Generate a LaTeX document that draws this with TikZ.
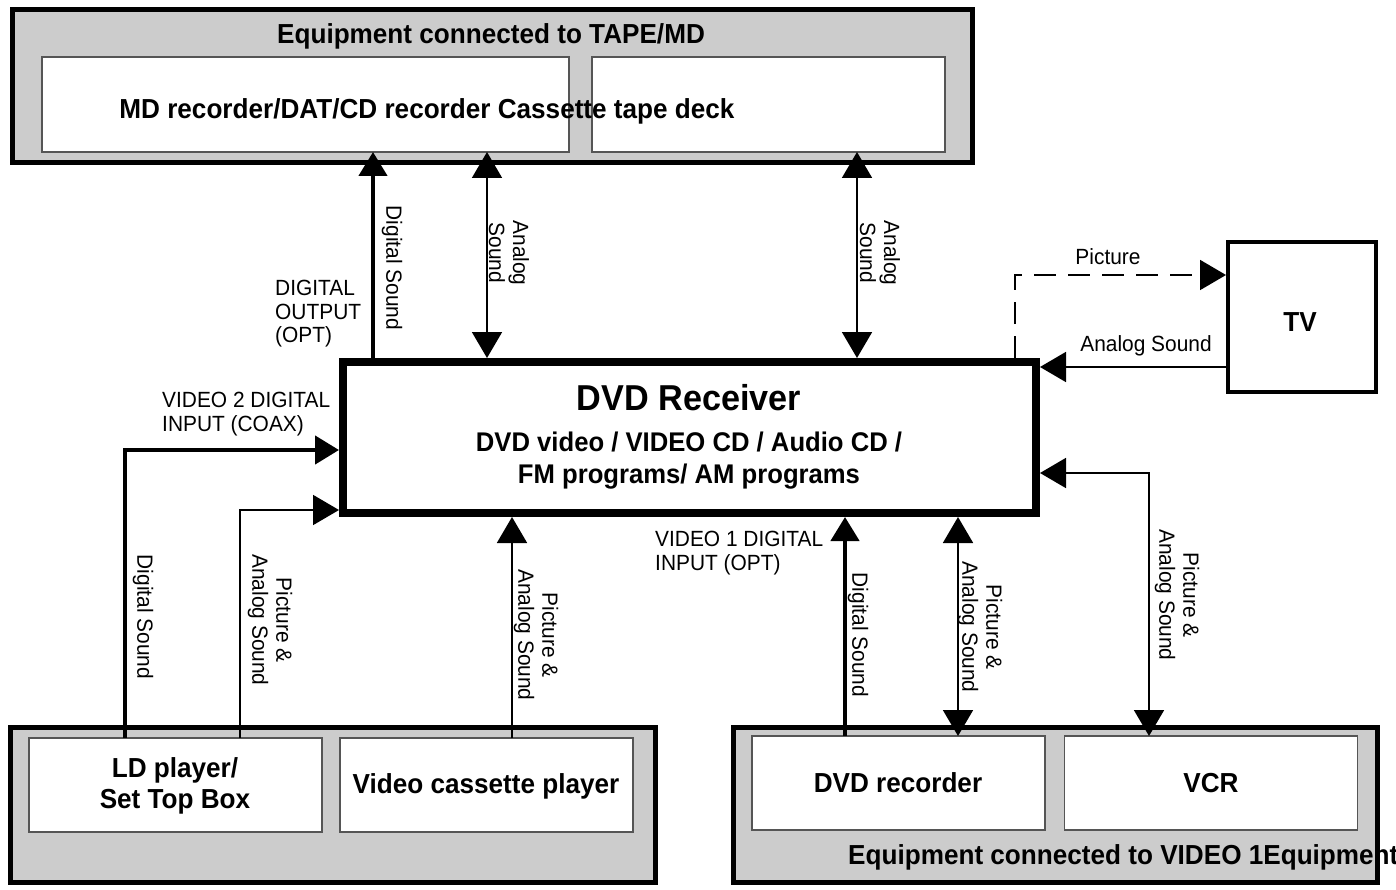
\documentclass[tikz,border=0pt]{standalone}
\usepackage{fontspec}
\setmainfont[FakeStretch=0.95]{Liberation Sans}
\usetikzlibrary{arrows.meta}
\definecolor{panel}{HTML}{CCCCCC}
\definecolor{inner}{HTML}{555555}
\begin{document}
\begin{tikzpicture}[x=1pt,y=-1pt,
  outerbox/.style={draw=black,line width=5pt,fill=panel,inner sep=0pt,outer sep=0pt},
  innerbox/.style={draw=inner,line width=1.5pt,fill=white,inner sep=0pt,outer sep=0pt},
  boxtext/.style={font=\fontsize{27.5}{31}\selectfont\bfseries,align=center,inner sep=0pt},
  lbl/.style={font=\fontsize{22}{24}\selectfont,align=center,inner sep=0pt},
  lblleft/.style={font=\fontsize{22}{23.5}\selectfont,align=left,inner sep=0pt,anchor=west},
  vlbl/.style={lbl,rotate=-90},
  thinline/.style={line width=1.8pt},
  thickline/.style={line width=4.5pt},
  tip/.tip={Triangle[length=26pt,width=30pt]},
  tipthick/.tip={Triangle[length=24pt,width=28pt]}
]
\useasboundingbox (0,0) rectangle (1396,890);

% ---- top panel ----
\node[outerbox,minimum width=960,minimum height=153] (tape) at (492,86.5) {};
\node[boxtext] (tapetitle) at (491,36) {Equipment connected to TAPE/MD};
\node[innerbox,minimum width=527,minimum height=95] (md) at (305.5,104.5) {};
\node[innerbox,minimum width=353,minimum height=95] (cass) at (768.5,104.5) {};
\node[boxtext] (mdtext) at (427,111) {MD recorder/DAT/CD recorder Cassette tape deck};

% ---- DVD receiver ----
\node[draw=black,line width=8pt,fill=white,minimum width=693,minimum height=151,inner sep=0pt] (dvd) at (689.5,437.5) {};
\node[font=\fontsize{36}{40}\selectfont\bfseries,inner sep=0pt] (dvdtitle) at (689,398) {DVD Receiver};
\node[font=\fontsize{27}{32}\selectfont\bfseries,align=center,inner sep=0pt] (dvdsub) at (689,461) {DVD video / VIDEO CD / Audio CD /\\FM programs/ AM programs};

% ---- TV ----
\node[draw=black,line width=4pt,fill=white,minimum width=148,minimum height=150,inner sep=0pt] (tv) at (1302,317) {};
\node[boxtext] (tvtext) at (1300,322) {TV};

% ---- bottom left panel ----
\node[outerbox,minimum width=645,minimum height=155] (vid2) at (332.5,804.5) {};
\node[innerbox,minimum width=293,minimum height=94] (ld) at (175.5,785) {};
\node[innerbox,minimum width=293,minimum height=94] (vcp) at (486.5,785) {};
\node[boxtext] (ldtext) at (175,786) {LD player/\\Set Top Box};
\node[boxtext] (vcptext) at (486,786) {Video cassette player};

% ---- bottom right panel ----
\node[outerbox,minimum width=644,minimum height=155] (vid1) at (1055,804.5) {};
\node[innerbox,minimum width=293,minimum height=94] (dvdrec) at (898.5,783) {};
\node[innerbox,minimum width=293,minimum height=94] (vcr) at (1211,783) {};
\node[boxtext] (dvdrectext) at (898,783) {DVD recorder};
\node[boxtext] (vcrtext) at (1211,783) {VCR};
\node[boxtext,anchor=west] (vid1title) at (848,857) {Equipment connected to VIDEO 1Equipment};

% ---- column coordinates ----
\coordinate (xa) at (373,0);
\coordinate (xb) at (487,0);
\coordinate (xc) at (857,0);
\coordinate (xd) at (1015,0);
\coordinate (xe) at (125,0);
\coordinate (xf) at (240,0);
\coordinate (xg) at (512,0);
\coordinate (xh) at (845,0);
\coordinate (xi) at (958,0);
\coordinate (xj) at (1149,0);
\coordinate (ya) at (0,275);
\coordinate (yb) at (0,367);
\coordinate (yc) at (0,450);
\coordinate (yd) at (0,510);
\coordinate (ye) at (0,473);

% ---- connectors to top panel ----
\draw[thickline,-tipthick] (dvd.north -| xa) -- (md.south -| xa);
\draw[thinline,tip-tip] (dvd.north -| xb) -- (md.south -| xb);
\draw[thinline,tip-tip] (dvd.north -| xc) -- (cass.south -| xc);

\node[vlbl] (l1) at (392,268) {Digital Sound};
\node[vlbl] (l2) at (509,253) {Analog\\Sound};
\node[vlbl] (l3) at (880,253) {Analog\\Sound};
\node[lblleft] (l4) at (275,314) {DIGITAL\\OUTPUT\\(OPT)};

% ---- TV connectors ----
\draw[thinline,dash pattern=on 22pt off 12pt,-tip] (dvd.north -| xd) -- (ya -| xd) -- (ya -| tv.west);
\draw[thinline,-tip] (tv.west |- yb) -- (dvd.east |- yb);
\node[lbl] (l5) at (1108,257) {Picture};
\node[lbl] (l6) at (1146,346) {Analog Sound};

% ---- left inputs ----
\draw[thickline,-tipthick] (ld.north -| xe) -- (yc -| xe) -- (dvd.west |- yc);
\draw[thinline,-tip] (ld.north -| xf) -- (yd -| xf) -- (dvd.west |- yd);
\draw[thinline,-tip] (vcp.north -| xg) -- (dvd.south -| xg);
\node[lblleft] (l7) at (162,414) {VIDEO 2 DIGITAL\\INPUT (COAX)};
\node[vlbl] (l8) at (143,617) {Digital Sound};
\node[vlbl] (l9) at (270,620) {Picture \&\\Analog Sound};
\node[vlbl] (l10) at (536,635) {Picture \&\\Analog Sound};

% ---- right inputs ----
\draw[thickline,-tipthick] (dvdrec.north -| xh) -- (dvd.south -| xh);
\draw[thinline,tip-tip] (dvd.south -| xi) -- (dvdrec.north -| xi);
\draw[thinline,tip-tip] (dvd.east |- ye) -- (ye -| xj) -- (vcr.north -| xj);
\node[lblleft] (l11) at (655,553) {VIDEO 1 DIGITAL\\INPUT (OPT)};
\node[vlbl] (l12) at (858,635) {Digital Sound};
\node[vlbl] (l13) at (980,627) {Picture \&\\Analog Sound};
\node[vlbl] (l14) at (1177,595) {Picture \&\\Analog Sound};
\end{tikzpicture}
\end{document}
